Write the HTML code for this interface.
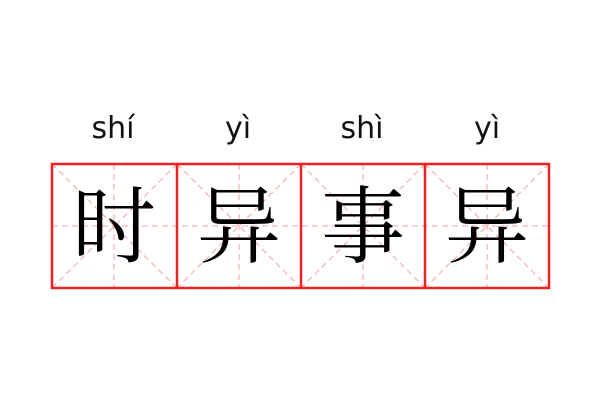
<!DOCTYPE html>
<html><head><meta charset="utf-8"><style>
body{margin:0;width:600px;height:400px;background:#fff;overflow:hidden}
</style></head><body>
<svg width="600" height="400" xmlns="http://www.w3.org/2000/svg">
<g font-family="DejaVu Sans, Liberation Sans, sans-serif" font-size="30" fill="#111" text-anchor="middle">
<text x="113" y="138">shí</text>
<text x="238" y="138">yì</text>
<text x="362" y="138">shì</text>
<text x="487" y="138">yì</text>
</g>
<g stroke="#f4a0a0" stroke-width="1" stroke-dasharray="6,4" fill="none">
<line x1="52" y1="226" x2="549" y2="226"/>
<line x1="114" y1="164" x2="114" y2="288"/>
<line x1="239" y1="164" x2="239" y2="288"/>
<line x1="363" y1="164" x2="363" y2="288"/>
<line x1="487" y1="164" x2="487" y2="288"/>
<path d="M52 164L177 288M177 164L52 288M177 164L301 288M301 164L177 288M301 164L425 288M425 164L301 288M425 164L549 288M549 164L425 288"/>
</g>
<g stroke="#ee2222" stroke-width="2.5" fill="none">
<rect x="52" y="164" width="497" height="124"/>
<line x1="177" y1="164" x2="177" y2="288"/>
<line x1="301" y1="164" x2="301" y2="288"/>
<line x1="425" y1="164" x2="425" y2="288"/>
</g>
<g font-family="Noto Serif CJK SC, serif" font-size="84" fill="#000" text-anchor="middle">
<text x="114" y="256">时</text>
<text x="239" y="256">异</text>
<text x="363" y="256">事</text>
<text x="487" y="256">异</text>
</g>
</svg>
</body></html>
